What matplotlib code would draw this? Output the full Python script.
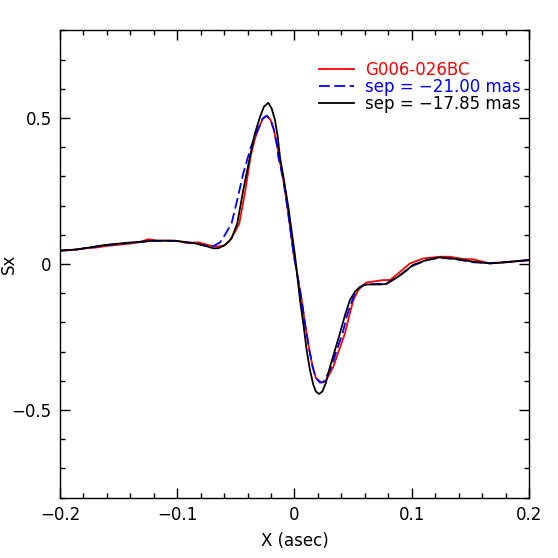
import matplotlib
matplotlib.use("Agg")
import matplotlib.pyplot as plt
from matplotlib.ticker import MultipleLocator

# G006-026BC observed S-curve
red_x = [-0.2, -0.19, -0.1787, -0.17, -0.16, -0.15, -0.14, -0.132, -0.1247, -0.117,
         -0.108, -0.1, -0.092, -0.082, -0.0706, -0.065, -0.06, -0.0555, -0.0505, -0.0471,
         -0.042, -0.0375, -0.0337, -0.03, -0.0271, -0.0237, -0.0203, -0.0175, -0.0147, -0.0124,
         -0.0095, -0.0061, -0.0004, 0.0013, 0.0061, 0.0089, 0.0127, 0.0155, 0.0183, 0.0231,
         0.026, 0.0294, 0.0331, 0.038, 0.0431, 0.0465, 0.0502, 0.0544, 0.0587, 0.0616,
         0.0672, 0.0757, 0.0815, 0.0885, 0.0985, 0.1098, 0.124, 0.1325, 0.144, 0.1525,
         0.1667, 0.181, 0.19, 0.2]
red_y = [0.045, 0.048, 0.054, 0.056, 0.062, 0.066, 0.070, 0.075, 0.085, 0.080,
         0.080, 0.079, 0.072, 0.074, 0.062, 0.060, 0.063, 0.078, 0.112, 0.139,
         0.25, 0.367, 0.43, 0.47, 0.497, 0.508, 0.493, 0.459, 0.402, 0.35,
         0.288, 0.196, 0.025, -0.01, -0.123, -0.203, -0.295, -0.352, -0.391, -0.406,
         -0.404, -0.38, -0.352, -0.295, -0.237, -0.18, -0.123, -0.089, -0.072, -0.063,
         -0.060, -0.055, -0.055, -0.032, 0.002, 0.019, 0.025, 0.025, 0.017, 0.016,
         0.002, 0.007, 0.010, 0.013]

# model, sep = -21.00 mas
blue_x = [-0.2, -0.185, -0.162, -0.142, -0.12, -0.102, -0.085, -0.076, -0.0693, -0.0635,
          -0.0593, -0.0536, -0.0488, -0.0437, -0.038, -0.0337, -0.03, -0.0271, -0.0237, -0.0203,
          -0.0175, -0.0147, -0.0138, -0.0095, -0.0061, -0.0004, 0.0013, 0.0061, 0.0089, 0.0127,
          0.0155, 0.0183, 0.0217, 0.0246, 0.028, 0.0317, 0.036, 0.0411, 0.0445, 0.0488,
          0.053, 0.0587, 0.066, 0.073, 0.0786, 0.0885, 0.1013, 0.1128, 0.124, 0.1383,
          0.1525, 0.1667, 0.181, 0.2]
blue_y = [0.046, 0.050, 0.064, 0.072, 0.079, 0.079, 0.071, 0.063, 0.061, 0.074,
          0.10, 0.14, 0.22, 0.31, 0.39, 0.44, 0.47, 0.499, 0.508, 0.493,
          0.459, 0.402, 0.367, 0.288, 0.196, 0.025, -0.01, -0.123, -0.203, -0.295,
          -0.352, -0.391, -0.406, -0.404, -0.38, -0.352, -0.295, -0.237, -0.18, -0.129,
          -0.089, -0.072, -0.069, -0.068, -0.066, -0.043, -0.005, 0.013, 0.022, 0.016,
          0.006, 0.003, 0.007, 0.013]

# model, sep = -17.85 mas
black_x = [-0.2, -0.185, -0.162, -0.142, -0.12, -0.102, -0.085, -0.076, -0.0693, -0.065,
           -0.0593, -0.0536, -0.0488, -0.0437, -0.038, -0.0337, -0.0294, -0.026, -0.0223, -0.0195,
           -0.0166, -0.0143, -0.0124, -0.009, -0.0053, 0.0004, 0.0047, 0.0075, 0.0104, 0.0132,
           0.0161, 0.0183, 0.0209, 0.0237, 0.0266, 0.0303, 0.0345, 0.0388, 0.0431, 0.0473,
           0.0516, 0.0559, 0.0616, 0.073, 0.0786, 0.0885, 0.1013, 0.1128, 0.124, 0.1383,
           0.1525, 0.1667, 0.181, 0.2]
black_y = [0.046, 0.050, 0.065, 0.073, 0.080, 0.080, 0.071, 0.062, 0.054, 0.054,
           0.065, 0.088, 0.139, 0.253, 0.367, 0.448, 0.504, 0.539, 0.552, 0.533,
           0.493, 0.436, 0.367, 0.288, 0.196, 0.030, -0.123, -0.203, -0.295, -0.363,
           -0.414, -0.437, -0.445, -0.437, -0.409, -0.352, -0.295, -0.237, -0.175, -0.123,
           -0.095, -0.078, -0.070, -0.070, -0.068, -0.043, -0.003, 0.014, 0.023, 0.017,
           0.008, 0.002, 0.006, 0.014]

labels = ["G006-026BC", "sep = \u221221.00 mas", "sep = \u221217.85 mas"]


def fmt(v, pos):
    if abs(v) < 1e-9:
        return "0"
    return f"{v:.1f}".replace("-", "\u2212")


fig = plt.figure(figsize=(5.58, 5.58), dpi=100)
ax = fig.add_axes([0.1075, 0.1082, 0.8405, 0.8373])

ax.plot(red_x, red_y, color="red", lw=1.3, label=labels[0])
ax.plot(blue_x, blue_y, color="blue", lw=1.3, dashes=(6, 2.5), label=labels[1])
ax.plot(black_x, black_y, color="black", lw=1.3, label=labels[2])

ax.set_xlim(-0.2, 0.2)
ax.set_ylim(-0.8, 0.8)
ax.xaxis.set_major_locator(MultipleLocator(0.1))
ax.xaxis.set_minor_locator(MultipleLocator(0.02))
ax.yaxis.set_major_locator(MultipleLocator(0.5))
ax.yaxis.set_minor_locator(MultipleLocator(0.1))
ax.xaxis.set_major_formatter(plt.FuncFormatter(fmt))
ax.yaxis.set_major_formatter(plt.FuncFormatter(fmt))
ax.tick_params(which="both", direction="in", top=True, right=True, labelsize=12, width=1)
ax.tick_params(which="major", length=7, pad=6)
ax.tick_params(which="minor", length=3.5)
for s in ax.spines.values():
    s.set_linewidth(1)

ax.set_xlabel("X (asec)", fontsize=12)
ax.set_ylabel("Sx", fontsize=12)
ax.xaxis.set_label_coords(0.5, -0.074)
ax.yaxis.set_label_coords(-0.09, 0.5)

ax.legend(loc="upper left", bbox_to_anchor=(0.552, 0.935), frameon=False, fontsize=12,
          handlelength=2.1, handletextpad=0.65, labelspacing=-0.05, labelcolor="linecolor",
          borderpad=0, borderaxespad=0)

fig.savefig("out.png", dpi=100)
